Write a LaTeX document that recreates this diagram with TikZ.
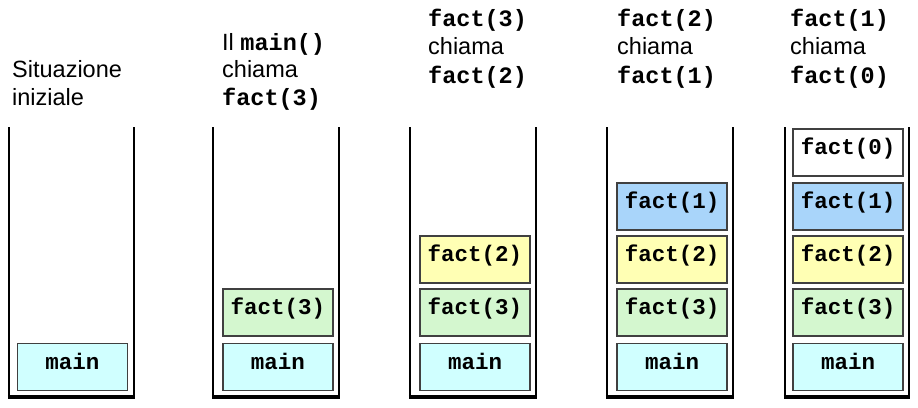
\documentclass[tikz,border=0pt]{standalone}
\usepackage{fontspec}
\setmainfont{Liberation Sans}
\newfontfamily\codefont{Liberation Mono}
\definecolor{cmain}{HTML}{D0FFFF}
\definecolor{cfiii}{HTML}{D4F7CF}
\definecolor{cfii}{HTML}{FFFFB4}
\definecolor{cfi}{HTML}{A9D5FA}
\newcommand{\cd}[1]{{\codefont\bfseries #1}}
\begin{document}
\begin{tikzpicture}[x=1pt,y=-1pt,
  frame/.style={draw=black!75, line width=1.3pt, minimum width=110pt, minimum height=47pt, inner sep=0pt,
    text height=12pt, text depth=8pt,
    font=\codefont\bfseries\fontsize{22.5}{27}\selectfont},
  hdr/.style={anchor=base west, inner sep=0pt, font=\fontsize{23.5}{28}\selectfont},
  wall/.style={draw=black, line width=2.4pt},
  floor/.style={draw=black, line width=3.5pt}]
\useasboundingbox (0,0) rectangle (918,407);
% stacks (containers)
\foreach \a/\b in {9/134, 213/339, 410/536, 607/733, 785/909}{
  \draw[wall] (\a,127) -- (\a,397);
  \draw[wall] (\b,127) -- (\b,397);
  \draw[floor] (\a-1.2,397) -- (\b+1.2,397);
}
% headers
\node[hdr] (h1a) at (12,77) {Situazione};
\node[hdr] (h1b) at (12,105) {iniziale};
\node[hdr] (h2a) at (222,50) {Il \cd{main()}};
\node[hdr] (h2b) at (222,77) {chiama};
\node[hdr] (h2c) at (222,105) {\cd{fact(3)}};
\node[hdr] (h3a) at (428,26) {\cd{fact(3)}};
\node[hdr] (h3b) at (428,54) {chiama};
\node[hdr] (h3c) at (428,83) {\cd{fact(2)}};
\node[hdr] (h4a) at (617,26) {\cd{fact(2)}};
\node[hdr] (h4b) at (617,54) {chiama};
\node[hdr] (h4c) at (617,83) {\cd{fact(1)}};
\node[hdr] (h5a) at (790,26) {\cd{fact(1)}};
\node[hdr] (h5b) at (790,54) {chiama};
\node[hdr] (h5c) at (790,83) {\cd{fact(0)}};
% stack 1
\node[frame, fill=cmain] (m1) at (72.5,367) {main};
% stack 2
\node[frame, fill=cmain] (m2) at (278,367) {main};
\node[frame, fill=cfiii] (f32) at (278,312.5) {fact(3)};
% stack 3
\node[frame, fill=cmain] (m3) at (475,367) {main};
\node[frame, fill=cfiii] (f33) at (475,312.5) {fact(3)};
\node[frame, fill=cfii] (f23) at (475,259.5) {fact(2)};
% stack 4
\node[frame, fill=cmain] (m4) at (672,367) {main};
\node[frame, fill=cfiii] (f34) at (672,312.5) {fact(3)};
\node[frame, fill=cfii] (f24) at (672,259.5) {fact(2)};
\node[frame, fill=cfi] (f14) at (672,206.5) {fact(1)};
% stack 5
\node[frame, fill=cmain] (m5) at (848,367) {main};
\node[frame, fill=cfiii] (f35) at (848,312.5) {fact(3)};
\node[frame, fill=cfii] (f25) at (848,259.5) {fact(2)};
\node[frame, fill=cfi] (f15) at (848,206.5) {fact(1)};
\node[frame, fill=white] (f05) at (848,152.5) {fact(0)};
\end{tikzpicture}
\end{document}
